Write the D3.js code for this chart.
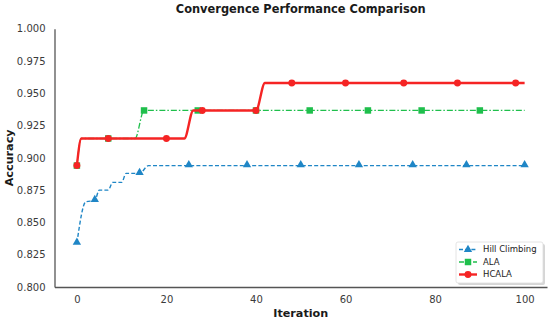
<!DOCTYPE html>
<html>
<head>
<meta charset="utf-8">
<script src="https://cdn.jsdelivr.net/npm/d3@7"></script>
<style>
  body { margin: 0; background: #fff; }
  svg { font-family: "DejaVu Sans", sans-serif; display: block; }
</style>
</head>
<body>
<svg id="main-svg"></svg>
<script>
// series data (iteration, accuracy)
const hillIter = [0, 2, 4, 5, 7, 8, 10, 11, 14, 16, 100];
const hillAcc = [0.834, 0.866, 0.867, 0.875, 0.875, 0.881, 0.881, 0.888, 0.888, 0.894, 0.894];
const hillMarkIter = [0, 4, 14, 25, 38, 50, 63, 75, 87, 100];
const hillMarkAcc = [0.834, 0.867, 0.888, 0.894, 0.894, 0.894, 0.894, 0.894, 0.894, 0.894];

const alaIter = [0, 1, 13, 15, 100];
const alaAcc = [0.894, 0.915, 0.915, 0.9367, 0.9367];
const alaMarkIter = [0, 7, 15, 27, 40, 52, 65, 77, 90];
const alaMarkAcc = [0.894, 0.915, 0.9367, 0.9367, 0.9367, 0.9367, 0.9367, 0.9367, 0.9367];

const hcalaIter = [0, 1, 24, 26, 40, 42, 100];
const hcalaAcc = [0.894, 0.915, 0.915, 0.9367, 0.9367, 0.958, 0.958];
const hcalaMarkIter = [0, 7, 20, 28, 40, 48, 60, 73, 85, 98];
const hcalaMarkAcc = [0.894, 0.915, 0.915, 0.9367, 0.9367, 0.958, 0.958, 0.958, 0.958, 0.958];

const xTicks = [0, 20, 40, 60, 80, 100];
const yTicks = [0.800, 0.825, 0.850, 0.875, 0.900, 0.925, 0.950, 0.975, 1.000];

const width = 550, height = 322;
const margin = {top: 28.7, right: 3, bottom: 35, left: 54.5};

let svg = d3.select('#main-svg').attr('width', width).attr('height', height);

let x = d3.scaleLinear().domain([-5, 105]).range([margin.left, width - margin.right]);
let y = d3.scaleLinear().domain([0.8, 1.0]).range([height - margin.bottom, margin.top]);

// axes
let xAxis = svg.append('g')
  .attr('transform', `translate(0,${height - margin.bottom})`)
  .call(d3.axisBottom(x).tickValues(xTicks).tickSize(0).tickPadding(9).tickFormat(d3.format('d')));
let yAxis = svg.append('g')
  .attr('transform', `translate(${margin.left},0)`)
  .call(d3.axisLeft(y).tickValues(yTicks).tickSize(0).tickPadding(9).tickFormat(d3.format('.3f')));

[xAxis, yAxis].forEach(function (ax) {
  ax.select('.domain').attr('stroke', '#555').attr('stroke-width', 1.3);
  ax.selectAll('text').attr('font-size', 10).attr('fill', '#3a3a3a')
    .attr('font-family', '"DejaVu Sans", sans-serif');
});

// titles
svg.append('text')
  .attr('x', (margin.left + width - margin.right) / 2).attr('y', 13)
  .attr('text-anchor', 'middle').attr('font-size', 11.4).attr('font-weight', 'bold')
  .attr('fill', '#1a1a1a')
  .text('Convergence Performance Comparison');
svg.append('text')
  .attr('x', (margin.left + width - margin.right) / 2).attr('y', 317)
  .attr('text-anchor', 'middle').attr('font-size', 11.2).attr('font-weight', 'bold')
  .attr('fill', '#1a1a1a')
  .text('Iteration');
svg.append('text')
  .attr('transform', `translate(13,${(margin.top + height - margin.bottom) / 2}) rotate(-90)`)
  .attr('text-anchor', 'middle').attr('font-size', 11.2).attr('font-weight', 'bold')
  .attr('fill', '#1a1a1a')
  .text('Accuracy');

let series = [
  {name: 'Hill Climbing', iter: hillIter, acc: hillAcc, mIter: hillMarkIter, mAcc: hillMarkAcc,
    color: '#1f86c6', width: 1.4, dash: '4,2.2', marker: 'triangle'},
  {name: 'ALA', iter: alaIter, acc: alaAcc, mIter: alaMarkIter, mAcc: alaMarkAcc,
    color: '#1fbf4c', width: 1.3, dash: '6,2,1.5,2', marker: 'square'},
  {name: 'HCALA', iter: hcalaIter, acc: hcalaAcc, mIter: hcalaMarkIter, mAcc: hcalaMarkAcc,
    color: '#f52424', width: 2.4, dash: null, marker: 'circle'}
];

let line = d3.line()
  .x(d => x(d[0]))
  .y(d => y(d[1]))
  .curve(d3.curveMonotoneX);

function symbolFor(kind) {
  if (kind === 'triangle') return d3.symbol().type(d3.symbolTriangle).size(30)();
  if (kind === 'square') return d3.symbol().type(d3.symbolSquare).size(42)();
  return d3.symbol().type(d3.symbolCircle).size(38)();
}

series.forEach(function (s) {
  let pts = s.iter.map((t, i) => [t, s.acc[i]]);
  svg.append('path')
    .datum(pts)
    .attr('fill', 'none')
    .attr('stroke', s.color)
    .attr('stroke-width', s.width)
    .attr('stroke-dasharray', s.dash)
    .attr('d', line);

  let marks = s.mIter.map((t, i) => [t, s.mAcc[i]]);
  svg.selectAll(null)
    .data(marks)
    .enter()
    .append('path')
    .attr('d', symbolFor(s.marker))
    .attr('transform', d => `translate(${x(d[0])},${y(d[1]) + (s.marker === 'triangle' ? -0.8 : 0)})`)
    .attr('fill', s.color);
});

// legend
let lg = svg.append('g').attr('transform', 'translate(456,242)');
lg.append('rect')
  .attr('x', 2).attr('y', 2).attr('width', 87).attr('height', 41).attr('rx', 2)
  .attr('fill', '#bbb').attr('opacity', 0.6);
lg.append('rect')
  .attr('width', 87).attr('height', 41).attr('rx', 2)
  .attr('fill', '#fff').attr('stroke', '#ddd').attr('stroke-width', 0.8);

series.forEach(function (s, i) {
  let yy = 7.5 + i * 12.5;
  lg.append('line')
    .attr('x1', 3).attr('x2', 21).attr('y1', yy).attr('y2', yy)
    .attr('stroke', s.color).attr('stroke-width', s.width)
    .attr('stroke-dasharray', s.marker === 'triangle' ? '4,2.2' : (s.marker === 'square' ? '5,2' : null));
  lg.append('path')
    .attr('d', symbolFor(s.marker))
    .attr('transform', `translate(12,${yy})`)
    .attr('fill', s.color);
  lg.append('text')
    .attr('x', 27).attr('y', yy).attr('dy', '0.35em')
    .attr('font-size', 8.5).attr('fill', '#222')
    .text(s.name);
});
</script>
</body>
</html>
